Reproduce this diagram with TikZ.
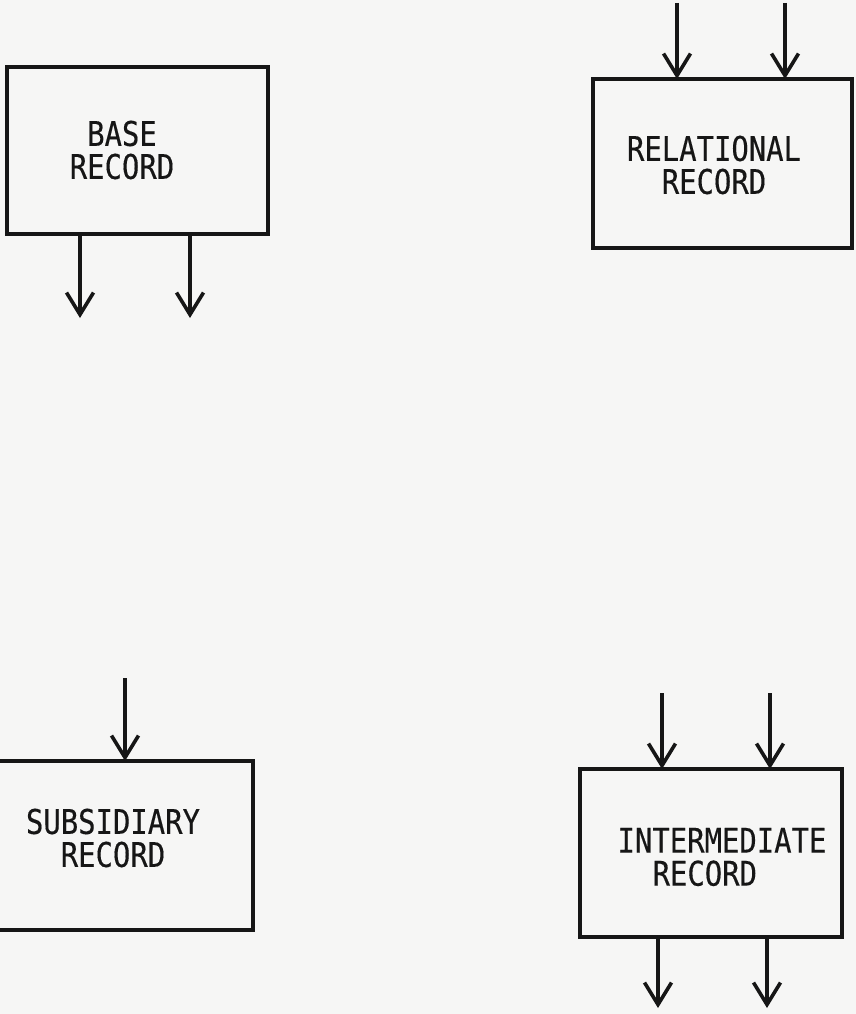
\documentclass[tikz,border=0pt]{standalone}
\usepackage{fontspec}
\newfontfamily\lettering[FakeStretch=0.85,FakeBold=0.3]{DejaVu Sans Mono}
\usetikzlibrary{arrows.meta}
\definecolor{paper}{RGB}{246,246,245}
\definecolor{ink}{RGB}{22,22,22}
\tikzset{
  recbox/.style={draw=ink, line width=4pt, inner sep=0pt, outer sep=0pt},
  lbl/.style={text=ink, align=center, inner sep=0pt,
    font=\lettering\fontsize{34}{33}\selectfont},
  flow/.style={draw=ink, line width=4pt,
    -{Straight Barb[length=22pt,width=27pt,line width=3.6pt]}}
}
\begin{document}
\begin{tikzpicture}[x=1pt,y=-1pt]
  % sheet
  \fill[paper] (0,0) rectangle (856,1014);
  \useasboundingbox (0,0) rectangle (856,1014);

  % record boxes
  \node[recbox, minimum width=261pt, minimum height=167pt] (base) at (137.5,150.5) {};
  \node[recbox, minimum width=259pt, minimum height=169pt] (rel)  at (722.5,163.5) {};
  \node[recbox, minimum width=256pt, minimum height=169pt] (sub)  at (125,845.5) {};
  \node[recbox, minimum width=262pt, minimum height=168pt] (int)  at (711,853) {};

  % box captions
  \node[lbl] (basetxt) at (122,150) {BASE\\RECORD};
  \node[lbl] (reltxt)  at (714,165) {RELATIONAL\\RECORD};
  \node[lbl] (subtxt)  at (113,838) {SUBSIDIARY\\RECORD};
  \node[lbl, align=left] (inttxt) at (722,857) {INTERMEDIATE\\\hspace*{35pt}RECORD};

  % free ends of the connectors
  \coordinate (bo1) at (80,318);
  \coordinate (bo2) at (190,318);
  \coordinate (ri1) at (677,3);
  \coordinate (ri2) at (785,3);
  \coordinate (si1) at (125,678);
  \coordinate (ii1) at (662,693);
  \coordinate (ii2) at (770,693);
  \coordinate (io1) at (658,1008);
  \coordinate (io2) at (767,1008);

  % connectors
  \draw[flow] (base.south -| bo1) -- (bo1);
  \draw[flow] (base.south -| bo2) -- (bo2);
  \draw[flow] (ri1) -- (rel.north -| ri1);
  \draw[flow] (ri2) -- (rel.north -| ri2);
  \draw[flow] (si1) -- (sub.north -| si1);
  \draw[flow] (ii1) -- (int.north -| ii1);
  \draw[flow] (ii2) -- (int.north -| ii2);
  \draw[flow] (int.south -| io1) -- (io1);
  \draw[flow] (int.south -| io2) -- (io2);
\end{tikzpicture}
\end{document}
